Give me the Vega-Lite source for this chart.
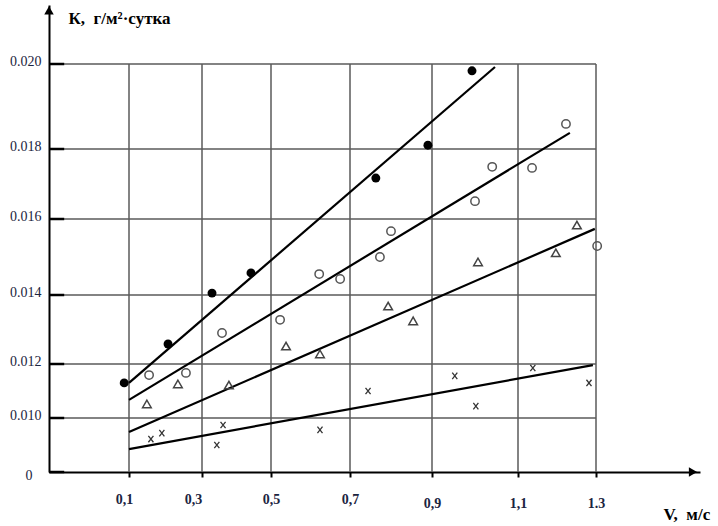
{
  "$schema": "https://vega.github.io/schema/vega-lite/v6.json",
  "width": 651,
  "height": 467,
  "autosize": {"type": "none"},
  "padding": {"left": 49, "top": 5, "right": 18, "bottom": 54},
  "background": "white",
  "config": {"view": {"stroke": null}},
  "datasets": {
    "points": [
      {"v": 0.094, "k": 0.0113, "s": "A"},
      {"v": 0.207, "k": 0.01258, "s": "A"},
      {"v": 0.329, "k": 0.01405, "s": "A"},
      {"v": 0.442, "k": 0.01458, "s": "A"},
      {"v": 0.763, "k": 0.01717, "s": "A"},
      {"v": 0.89, "k": 0.01809, "s": "A"},
      {"v": 0.993, "k": 0.01984, "s": "A"},
      {"v": 0.155, "k": 0.01159, "s": "B"},
      {"v": 0.256, "k": 0.01167, "s": "B"},
      {"v": 0.358, "k": 0.0129, "s": "B"},
      {"v": 0.523, "k": 0.01328, "s": "B"},
      {"v": 0.622, "k": 0.01455, "s": "B"},
      {"v": 0.675, "k": 0.01442, "s": "B"},
      {"v": 0.773, "k": 0.015, "s": "B"},
      {"v": 0.8, "k": 0.01568, "s": "B"},
      {"v": 1.0, "k": 0.01651, "s": "B"},
      {"v": 1.04, "k": 0.01749, "s": "B"},
      {"v": 1.136, "k": 0.01746, "s": "B"},
      {"v": 1.223, "k": 0.01859, "s": "B"},
      {"v": 1.303, "k": 0.01529, "s": "B"},
      {"v": 0.149, "k": 0.01052, "s": "C"},
      {"v": 0.234, "k": 0.01126, "s": "C"},
      {"v": 0.378, "k": 0.01122, "s": "C"},
      {"v": 0.538, "k": 0.01252, "s": "C"},
      {"v": 0.624, "k": 0.01229, "s": "C"},
      {"v": 0.793, "k": 0.01368, "s": "C"},
      {"v": 0.854, "k": 0.01325, "s": "C"},
      {"v": 1.007, "k": 0.01487, "s": "C"},
      {"v": 1.197, "k": 0.01511, "s": "C"},
      {"v": 1.251, "k": 0.01584, "s": "C"},
      {"v": 0.16, "k": 0.00922, "s": "D"},
      {"v": 0.19, "k": 0.00944, "s": "D"},
      {"v": 0.343, "k": 0.009, "s": "D"},
      {"v": 0.361, "k": 0.00974, "s": "D"},
      {"v": 0.624, "k": 0.00956, "s": "D"},
      {"v": 0.744, "k": 0.011, "s": "D"},
      {"v": 0.953, "k": 0.01156, "s": "D"},
      {"v": 1.002, "k": 0.01044, "s": "D"},
      {"v": 1.138, "k": 0.01185, "s": "D"},
      {"v": 1.282, "k": 0.0113, "s": "D"}
    ],
    "fits": [
      {"v": 0.1, "k": 0.0113, "s": "A"},
      {"v": 1.0465, "k": 0.01993, "s": "A"},
      {"v": 0.1, "k": 0.01067, "s": "B"},
      {"v": 1.233, "k": 0.01838, "s": "B"},
      {"v": 0.1, "k": 0.00948, "s": "C"},
      {"v": 1.297, "k": 0.01574, "s": "C"},
      {"v": 0.1, "k": 0.00885, "s": "D"},
      {"v": 1.292, "k": 0.01196, "s": "D"}
    ],
    "hgrid": [
      {"k": 0.010}, {"k": 0.012}, {"k": 0.014}, {"k": 0.016}, {"k": 0.018}, {"k": 0.020}
    ],
    "vgrid": [
      {"v": 0.1}, {"v": 0.3}, {"v": 0.5}, {"v": 0.7}, {"v": 0.9}, {"v": 1.1}, {"v": 1.3}
    ],
    "yticks": [
      {"k": 0.008}, {"k": 0.010}, {"k": 0.012}, {"k": 0.014}, {"k": 0.016}, {"k": 0.018}, {"k": 0.020}
    ],
    "arrows": [
      {"v": 1.549, "k": 0.008, "shape": "triangle-right"},
      {"v": 0, "k": 0.02127, "shape": "triangle-up"}
    ]
  },
  "layer": [
    {
      "data": {"name": "hgrid"},
      "mark": {"type": "rule", "stroke": "#5a5a5a", "strokeWidth": 1.5},
      "encoding": {
        "y": {
          "field": "k", "type": "quantitative",
          "scale": {"domain": [0.008, 0.010, 0.012, 0.014, 0.016, 0.018, 0.020, 0.0214], "range": [467, 413, 359, 290, 214, 144, 59, 0], "nice": false, "zero": false},
          "axis": {
            "values": [0.008, 0.010, 0.012, 0.014, 0.016, 0.018, 0.020],
            "labelExpr": "datum.value < 0.009 ? '0' : format(datum.value, '.3f')",
            "ticks": false,
            "grid": false,
            "domain": true,
            "domainColor": "#000000",
            "domainWidth": 2,
            "labelFont": "Liberation Serif",
            "labelFontSize": 14,
            "labelColor": "#1b2440",
            "labelPadding": {"condition": {"test": "datum.value < 0.009", "value": 17}, "value": 8},
            "labelOffset": {"condition": {"test": "datum.value < 0.009", "value": 3}, "value": -3},
            "labelOverlap": false,
            "labelBound": false,
            "labelFlush": false,
            "title": "К,\u00a0 г/м²·сутка",
            "titleAngle": 0,
            "titleX": 19,
            "titleY": 13,
            "titleAlign": "left",
            "titleBaseline": "middle",
            "titleFont": "Liberation Serif",
            "titleFontSize": 17,
            "titleFontWeight": "bold",
            "titleColor": "#000000"
          }
        },
        "x": {
          "datum": 0, "type": "quantitative",
          "scale": {"domain": [0, 0.1, 0.3, 0.5, 0.7, 0.9, 1.1, 1.3, 1.567], "range": [0, 80, 153, 222, 301, 383, 469, 547, 651], "nice": false, "zero": false}
        },
        "x2": {"datum": 1.3}
      }
    },
    {
      "data": {"name": "vgrid"},
      "mark": {"type": "rule", "stroke": "#5a5a5a", "strokeWidth": 1.5},
      "encoding": {
        "x": {
          "field": "v", "type": "quantitative",
          "scale": {"domain": [0, 0.1, 0.3, 0.5, 0.7, 0.9, 1.1, 1.3, 1.567], "range": [0, 80, 153, 222, 301, 383, 469, 547, 651], "nice": false, "zero": false},
          "axis": {
            "values": [0.1, 0.3, 0.5, 0.7, 0.9, 1.1, 1.3],
            "labelExpr": "datum.value > 1.2 ? '1.3' : replace(format(datum.value, '.1f'), '.', ',')",
            "grid": false,
            "ticks": true,
            "tickSize": 5,
            "tickWidth": 2,
            "tickColor": "#000000",
            "domain": true,
            "domainColor": "#000000",
            "domainWidth": 2,
            "labelFont": "Liberation Serif",
            "labelFontSize": 14,
            "labelFontWeight": "bold",
            "labelColor": "#1b2440",
            "labelPadding": {"condition": {"test": "datum.value > 0.8", "value": 19}, "value": 15},
            "labelOffset": {"condition": [{"test": "datum.value < 0.2", "value": -5}, {"test": "datum.value < 0.4", "value": -9}], "value": 0},
            "labelOverlap": false,
            "labelBound": false,
            "labelFlush": false,
            "title": "V,\u00a0 м/с",
            "titleX": 614,
            "titleY": 42,
            "titleAlign": "left",
            "titleBaseline": "middle",
            "titleAngle": 0,
            "titleFont": "Liberation Serif",
            "titleFontSize": 17,
            "titleFontWeight": "bold",
            "titleColor": "#000000"
          }
        },
        "y": {
          "datum": 0.008, "type": "quantitative",
          "scale": {"domain": [0.008, 0.010, 0.012, 0.014, 0.016, 0.018, 0.020, 0.0214], "range": [467, 413, 359, 290, 214, 144, 59, 0], "nice": false, "zero": false}
        },
        "y2": {"datum": 0.020}
      }
    },
    {
      "data": {"name": "yticks"},
      "mark": {"type": "rule", "stroke": "#000000", "strokeWidth": 2.5},
      "encoding": {
        "y": {"field": "k", "type": "quantitative",
          "scale": {"domain": [0.008, 0.010, 0.012, 0.014, 0.016, 0.018, 0.020, 0.0214], "range": [467, 413, 359, 290, 214, 144, 59, 0], "nice": false, "zero": false}},
        "x": {"datum": 0, "type": "quantitative",
          "scale": {"domain": [0, 0.1, 0.3, 0.5, 0.7, 0.9, 1.1, 1.3, 1.567], "range": [0, 80, 153, 222, 301, 383, 469, 547, 651], "nice": false, "zero": false}},
        "x2": {"datum": 0.019}
      }
    },
    {
      "data": {"name": "fits"},
      "mark": {"type": "line", "stroke": "#000000", "strokeWidth": 2.2},
      "encoding": {
        "x": {"field": "v", "type": "quantitative",
          "scale": {"domain": [0, 0.1, 0.3, 0.5, 0.7, 0.9, 1.1, 1.3, 1.567], "range": [0, 80, 153, 222, 301, 383, 469, 547, 651], "nice": false, "zero": false}},
        "y": {"field": "k", "type": "quantitative",
          "scale": {"domain": [0.008, 0.010, 0.012, 0.014, 0.016, 0.018, 0.020, 0.0214], "range": [467, 413, 359, 290, 214, 144, 59, 0], "nice": false, "zero": false}},
        "detail": {"field": "s"}
      }
    },
    {
      "data": {"name": "points"},
      "transform": [{"filter": "datum.s === 'A'"}],
      "mark": {"type": "point", "shape": "circle", "filled": true, "fill": "#000000", "size": 80, "opacity": 1},
      "encoding": {
        "x": {"field": "v", "type": "quantitative",
          "scale": {"domain": [0, 0.1, 0.3, 0.5, 0.7, 0.9, 1.1, 1.3, 1.567], "range": [0, 80, 153, 222, 301, 383, 469, 547, 651], "nice": false, "zero": false}},
        "y": {"field": "k", "type": "quantitative",
          "scale": {"domain": [0.008, 0.010, 0.012, 0.014, 0.016, 0.018, 0.020, 0.0214], "range": [467, 413, 359, 290, 214, 144, 59, 0], "nice": false, "zero": false}}
      }
    },
    {
      "data": {"name": "points"},
      "transform": [{"filter": "datum.s === 'B'"}],
      "mark": {"type": "point", "shape": "circle", "filled": false, "stroke": "#555555", "strokeWidth": 1.5, "size": 70, "opacity": 1},
      "encoding": {
        "x": {"field": "v", "type": "quantitative",
          "scale": {"domain": [0, 0.1, 0.3, 0.5, 0.7, 0.9, 1.1, 1.3, 1.567], "range": [0, 80, 153, 222, 301, 383, 469, 547, 651], "nice": false, "zero": false}},
        "y": {"field": "k", "type": "quantitative",
          "scale": {"domain": [0.008, 0.010, 0.012, 0.014, 0.016, 0.018, 0.020, 0.0214], "range": [467, 413, 359, 290, 214, 144, 59, 0], "nice": false, "zero": false}}
      }
    },
    {
      "data": {"name": "points"},
      "transform": [{"filter": "datum.s === 'C'"}],
      "mark": {"type": "point", "shape": "triangle-up", "filled": false, "stroke": "#444444", "strokeWidth": 1.5, "size": 75, "opacity": 1},
      "encoding": {
        "x": {"field": "v", "type": "quantitative",
          "scale": {"domain": [0, 0.1, 0.3, 0.5, 0.7, 0.9, 1.1, 1.3, 1.567], "range": [0, 80, 153, 222, 301, 383, 469, 547, 651], "nice": false, "zero": false}},
        "y": {"field": "k", "type": "quantitative",
          "scale": {"domain": [0.008, 0.010, 0.012, 0.014, 0.016, 0.018, 0.020, 0.0214], "range": [467, 413, 359, 290, 214, 144, 59, 0], "nice": false, "zero": false}}
      }
    },
    {
      "data": {"name": "points"},
      "transform": [{"filter": "datum.s === 'D'"}],
      "mark": {"type": "point", "shape": "M-0.8,-1L0.8,1M-0.8,1L0.8,-1", "filled": false, "stroke": "#333333", "strokeWidth": 1.3, "size": 40, "opacity": 1},
      "encoding": {
        "x": {"field": "v", "type": "quantitative",
          "scale": {"domain": [0, 0.1, 0.3, 0.5, 0.7, 0.9, 1.1, 1.3, 1.567], "range": [0, 80, 153, 222, 301, 383, 469, 547, 651], "nice": false, "zero": false}},
        "y": {"field": "k", "type": "quantitative",
          "scale": {"domain": [0.008, 0.010, 0.012, 0.014, 0.016, 0.018, 0.020, 0.0214], "range": [467, 413, 359, 290, 214, 144, 59, 0], "nice": false, "zero": false}}
      }
    },
    {
      "data": {"name": "arrows"},
      "mark": {"type": "point", "filled": true, "fill": "#000000", "size": 90, "opacity": 1},
      "encoding": {
        "x": {"field": "v", "type": "quantitative",
          "scale": {"domain": [0, 0.1, 0.3, 0.5, 0.7, 0.9, 1.1, 1.3, 1.567], "range": [0, 80, 153, 222, 301, 383, 469, 547, 651], "nice": false, "zero": false}},
        "y": {"field": "k", "type": "quantitative",
          "scale": {"domain": [0.008, 0.010, 0.012, 0.014, 0.016, 0.018, 0.020, 0.0214], "range": [467, 413, 359, 290, 214, 144, 59, 0], "nice": false, "zero": false}},
        "shape": {"field": "shape", "type": "nominal", "scale": null}
      }
    }
  ]
}
